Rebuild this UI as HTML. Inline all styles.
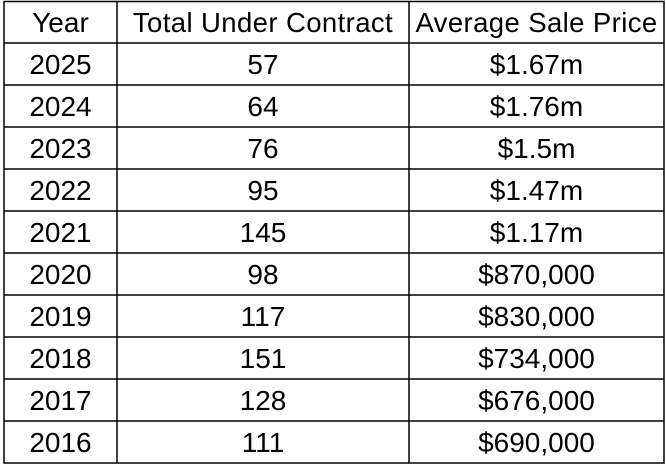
<!DOCTYPE html>
<html><head><style>
body{margin:0;background:#fff;width:666px;height:466px;overflow:hidden;font-family:"Liberation Sans",sans-serif;}
svg{position:absolute;left:0;top:0}
.c{position:absolute;height:42px;line-height:44px;text-align:center;font-size:28px;color:#000;white-space:nowrap;}
</style></head><body>
<svg width="666" height="466">
<g stroke="#000" stroke-width="1.5" fill="none">
<rect x="4" y="1.5" width="660" height="461.5"/>
<line x1="117" y1="1" x2="117" y2="463"/>
<line x1="409" y1="1" x2="409" y2="463"/>
<line x1="4" y1="43" x2="664" y2="43"/><line x1="4" y1="85" x2="664" y2="85"/>
<line x1="4" y1="127" x2="664" y2="127"/><line x1="4" y1="169" x2="664" y2="169"/>
<line x1="4" y1="211" x2="664" y2="211"/><line x1="4" y1="253" x2="664" y2="253"/>
<line x1="4" y1="295" x2="664" y2="295"/><line x1="4" y1="337" x2="664" y2="337"/>
<line x1="4" y1="379" x2="664" y2="379"/><line x1="4" y1="421" x2="664" y2="421"/>
</g></svg>
<div id="t"></div>
<script>
var d=[["Year","Total Under Contract","Average Sale Price"],["2025","57","$1.67m"],["2024","64","$1.76m"],["2023","76","$1.5m"],["2022","95","$1.47m"],["2021","145","$1.17m"],["2020","98","$870,000"],["2019","117","$830,000"],["2018","151","$734,000"],["2017","128","$676,000"],["2016","111","$690,000"]];
var xs=[[4,113],[117,292],[409,255]],h="";
d.forEach(function(r,i){r.forEach(function(v,j){h+='<div class="c" style="top:'+(1+i*42)+'px;left:'+xs[j][0]+'px;width:'+xs[j][1]+'px;'+(i==0&&j>0?'font-size:27.5px;letter-spacing:0.4px;':'')+'">'+v+'</div>';});});
document.getElementById('t').innerHTML=h;
</script>
</body></html>
